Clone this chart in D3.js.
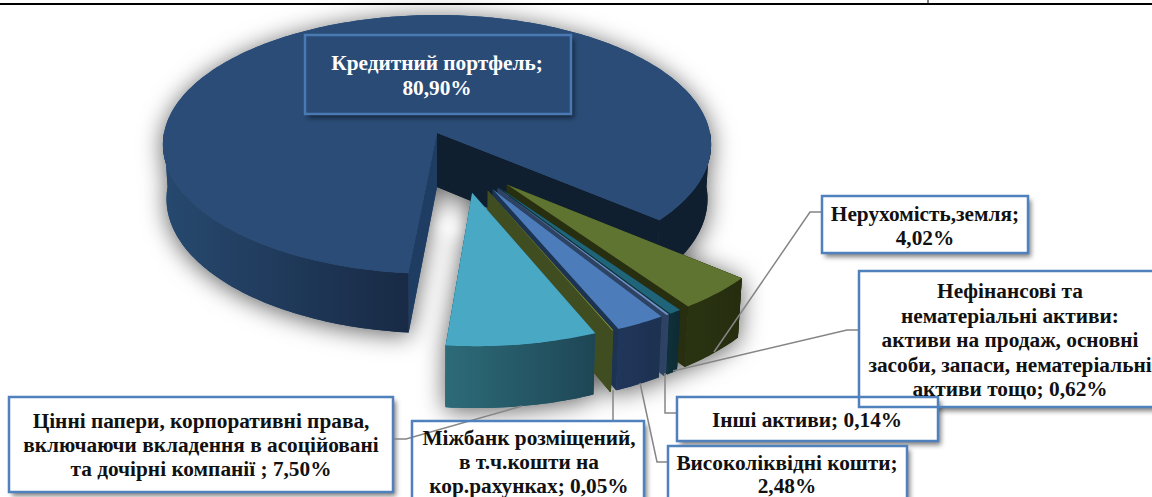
<!DOCTYPE html>
<html>
<head>
<meta charset="utf-8">
<script src="https://cdn.jsdelivr.net/npm/d3@7"></script>
<style>
  html, body { margin: 0; padding: 0; background: #fff; overflow: hidden; }
  text { font-family: "Liberation Serif", serif; font-weight: bold; font-size: 21.3px; text-anchor: middle; fill: #111; }
</style>
</head>
<body>
<script>
const categories = ["Кредитний портфель", "Нерухомість,земля", "Нефінансові та нематеріальні активи",
  "Інші активи", "Високоліквідні кошти", "Міжбанк розміщений", "Цінні папери"];
const values = [80.90, 4.02, 0.62, 0.14, 2.48, 0.05, 7.50];

const topColors  = ["#2a4c76", "#5f7430", "#1f6478", "#6f93c4", "#4c7dba", "#8a9a3a", "#49a8c4"];
const wallColors = ["#0f1f30", "#272f10", "#0f2f38", "#2e4263", "#1d3352", "#404d20", "#24525f"];
const sideFrom   = ["#27496f", "#2a3311", "#0f3039", "#2f4466", "#20365a", "#404d20", "#2d6b79"];
const sideTo     = ["#182a45", "#252d0f", "#0d2a32", "#2d4060", "#1d3150", "#404d20", "#1e4655"];

const labels = [
  {lines: ["Кредитний портфель;", "80,90%"], box: [305, 35, 266, 79], cx: 437, base: [70, 95], main: true},
  {lines: ["Нерухомість,земля;", "4,02%"], box: [822, 196, 206, 57], cx: 925, base: [221, 245]},
  {lines: ["Нефінансові та", "нематеріальні активи:", "активи на продаж, основні", "засоби, запаси, нематеріальні", "активи тощо; 0,62%"],
    box: [859, 271, 300, 136], cx: 1010, base: [298, 323, 347, 372, 396]},
  {lines: ["Інші активи; 0,14%"], box: [677, 397, 261, 44], cx: 807, base: [427]},
  {lines: ["Високоліквідні кошти;", "2,48%"], box: [668, 446, 239, 60], cx: 787, base: [470, 493]},
  {lines: ["Міжбанк розміщений,", "в т.ч.кошти на", "кор.рахунках; 0,05%"], box: [412, 421, 232, 85], cx: 529, base: [445, 469, 493]},
  {lines: ["Цінні папери, корпоративні права,", "включаючи вкладення в асоційовані", "та дочірні компанії ; 7,50%"],
    box: [9, 397, 384, 95], cx: 201, base: [428, 452, 476]}
];

const leaders = [
  [[822, 212], [810, 212], [714, 352]],
  [[859, 330], [847, 330], [673, 371]],
  [[677, 413], [665, 413], [665, 373]],
  [[668, 462], [657, 462], [640, 383]],
  [[613, 421], [613, 390]],
  [[393, 439], [406, 439], [522, 406]]
];

const width = 1152, height = 497;
const origin = {x: 437, y: 133};     // apex of the big slice
const persp = 0.0888, rx = 273, ry = 128.5, depth = 54, shrink = 0.987;
const explode = 0.233;
const startAngle = 185.5 * Math.PI / 180;

const svg = d3.select("body").append("svg")
  .attr("width", width)
  .attr("height", height)
  .style("display", "block");

const defs = svg.append("defs");

const pieShadow = defs.append("filter").attr("id", "pieShadow")
  .attr("x", "-20%").attr("y", "-20%").attr("width", "140%").attr("height", "140%");
pieShadow.append("feDropShadow")
  .attr("dx", 0).attr("dy", 3).attr("stdDeviation", 12)
  .attr("flood-color", "#000").attr("flood-opacity", 0.62);

const boxShadow = defs.append("filter").attr("id", "boxShadow")
  .attr("x", "-10%").attr("y", "-20%").attr("width", "120%").attr("height", "140%");
boxShadow.append("feDropShadow")
  .attr("dx", 3).attr("dy", 4).attr("stdDeviation", 2.5)
  .attr("flood-color", "#000").attr("flood-opacity", 0.5);

const spotBlur = defs.append("filter").attr("id", "spotBlur")
  .attr("x", "-100%").attr("y", "-100%").attr("width", "300%").attr("height", "300%");
spotBlur.append("feGaussianBlur").attr("stdDeviation", 7);

svg.append("rect").attr("width", width).attr("height", 2).attr("y", 3).attr("fill", "#000");
svg.append("line").attr("x1", 928).attr("x2", 928).attr("y1", 0).attr("y2", 3).attr("stroke", "#000");

const pie = d3.pie().sort(null)
  .startAngle(startAngle)
  .endAngle(startAngle + 2 * Math.PI);
const arcs = pie(values);

const midMain = (arcs[0].startAngle + arcs[0].endAngle) / 2;
const shiftX = explode * Math.sin(midMain);
const shiftY = -explode * Math.cos(midMain);

// plane coordinates -> screen, front of the pie is nearer so it comes out bigger
function project(px, py, low) {
  const X = px - shiftX, Y = py - shiftY;
  const w = 1 - persp * Y;
  let x = rx * X / w, y = ry * Y / w;
  if (low) {
    x *= shrink;
    y += depth / w;
  }
  return [origin.x + x, origin.y + y];
}

const line = d3.line();
const step = Math.PI / 180;

function angles(a0, a1) {
  const out = d3.range(a0, a1, step);
  out.push(a1);
  return out;
}

// parts of the rim that face the viewer
function frontRanges(a0, a1) {
  const out = [];
  [0, 2 * Math.PI].forEach(turn => {
    const lo = Math.max(a0, Math.PI / 2 + turn), hi = Math.min(a1, 3 * Math.PI / 2 + turn);
    if (hi > lo) out.push([lo, hi]);
  });
  return out;
}

const shadowLayer = svg.append("g").attr("filter", "url(#pieShadow)");
const pieLayer = shadowLayer.append("g").attr("id", "pieShapes");

arcs.forEach((d, i) => {
  const mid = (d.startAngle + d.endAngle) / 2;
  const ox = explode * Math.sin(mid), oy = -explode * Math.cos(mid);
  const rim = (a, low) => project(ox + Math.sin(a), oy - Math.cos(a), low);
  const apex = low => project(ox, oy, low);

  const g = pieLayer.append("g").attr("class", "slice");

  // radial walls
  const wallA = [apex(false), rim(d.startAngle, false), rim(d.startAngle, true), apex(true)];
  const wallB = [apex(false), rim(d.endAngle, false), rim(d.endAngle, true), apex(true)];
  g.append("path").attr("d", line(wallA) + "Z").attr("fill", i === 0 ? "#1f3d63" : wallColors[i]);
  g.append("path").attr("d", line(wallB) + "Z").attr("fill", wallColors[i]);

  // rim
  frontRanges(d.startAngle, d.endAngle).forEach((r, k) => {
    const top = angles(r[0], r[1]).map(a => rim(a, false));
    const low = angles(r[0], r[1]).map(a => rim(a, true)).reverse();
    const id = "side" + i + "_" + k;
    const xs = top.map(p => p[0]);
    const grad = defs.append("linearGradient").attr("id", id)
      .attr("gradientUnits", "userSpaceOnUse")
      .attr("x1", d3.min(xs)).attr("x2", d3.max(xs)).attr("y1", 0).attr("y2", 0);
    const dark = i === 0 && k === 1;
    grad.append("stop").attr("offset", 0).attr("stop-color", dark ? wallColors[0] : sideFrom[i]);
    grad.append("stop").attr("offset", 1).attr("stop-color", dark ? wallColors[0] : sideTo[i]);
    g.append("path").attr("d", line(top.concat(low)) + "Z").attr("fill", `url(#${id})`);
  });

  // top face
  const face = [apex(false)].concat(angles(d.startAngle, d.endAngle).map(a => rim(a, false)));
  g.append("path").attr("d", line(face) + "Z").attr("fill", topColors[i]);
});

// pale spot in the shadow between the big slice and the others, pie goes back on top of it
svg.append("circle")
  .attr("cx", 449).attr("cy", 228).attr("r", 9)
  .attr("fill", "#fff").attr("filter", "url(#spotBlur)");
svg.append("use").attr("href", "#pieShapes");

// labels: fills first, then leaders, then borders and text, the borders overlap in the picture
const fills = svg.append("g"), leaderLayer = svg.append("g"), frames = svg.append("g"), texts = svg.append("g");

labels.forEach(l => {
  fills.append("rect")
    .attr("x", l.box[0]).attr("y", l.box[1])
    .attr("width", l.box[2]).attr("height", l.box[3])
    .attr("fill", l.main ? topColors[0] : "#fff")
    .attr("filter", "url(#boxShadow)");
  frames.append("rect")
    .attr("x", l.box[0]).attr("y", l.box[1])
    .attr("width", l.box[2]).attr("height", l.box[3])
    .attr("fill", "none")
    .attr("stroke", l.main ? "#4a7ab4" : "#4f81bd")
    .attr("stroke-width", 2.5);
  l.lines.forEach((t, j) => {
    texts.append("text")
      .attr("x", l.cx).attr("y", l.base[j])
      .style("fill", l.main ? "#fff" : "#111")
      .text(t);
  });
});

leaders.forEach(pts => {
  leaderLayer.append("path")
    .attr("d", line(pts))
    .attr("fill", "none")
    .attr("stroke", "#858585")
    .attr("stroke-width", 1.5);
});
</script>
</body>
</html>
